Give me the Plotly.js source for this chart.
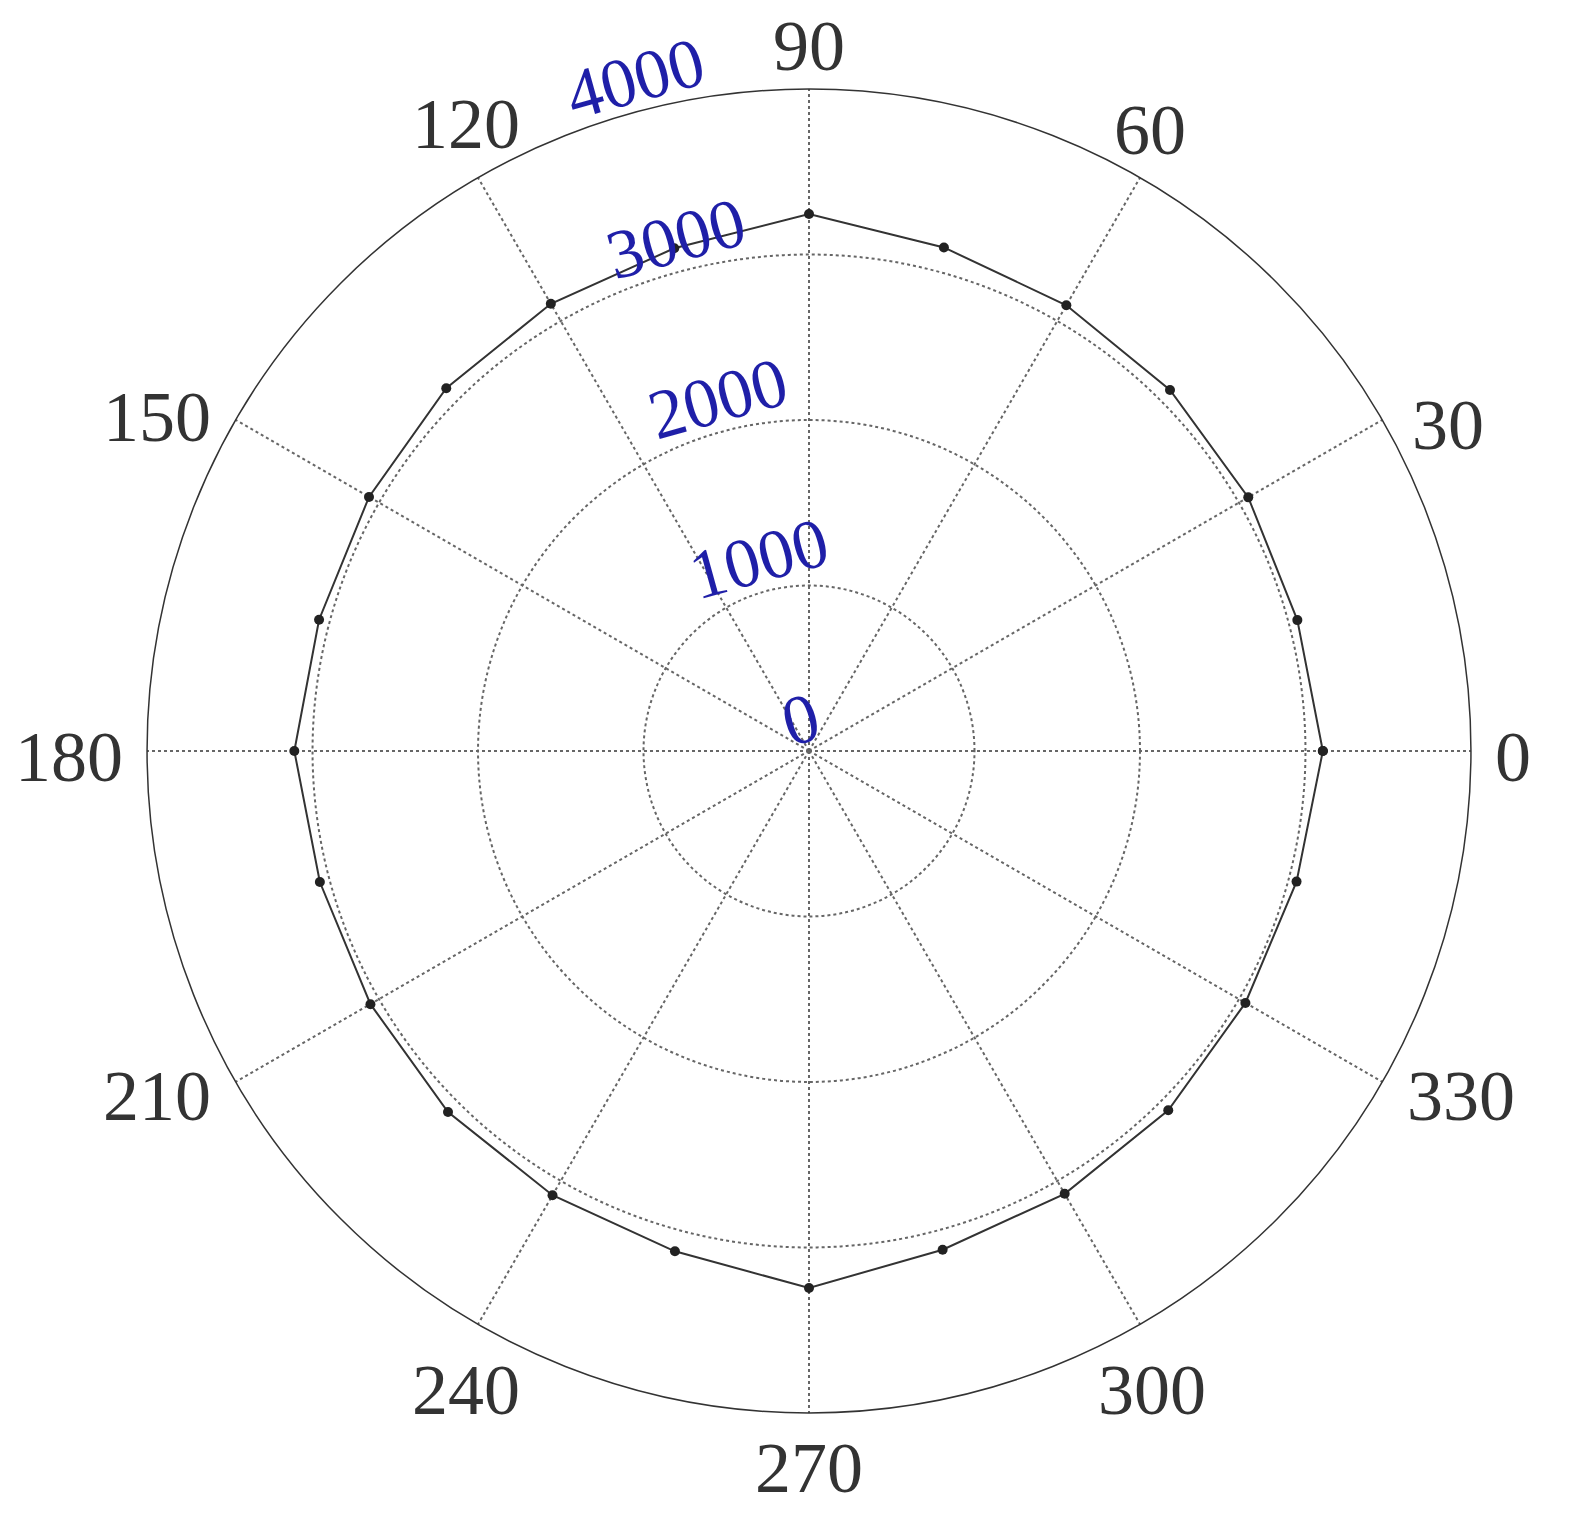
<!DOCTYPE html>
<html>
<head>
<meta charset="utf-8">
<script src="https://cdn.plot.ly/plotly-3.0.1.min.js"></script>
<style>
  html, body { margin: 0; padding: 0; background: #fff; }
  #plot { width: 1577px; height: 1527px; }
</style>
</head>
<body>
<div id="plot"></div>
<script>
// measured points, every 15 degrees
var angles = [0, 15, 30, 45, 60, 75, 90, 105, 120, 135, 150, 165,
              180, 195, 210, 225, 240, 255, 270, 285, 300, 315, 330, 345];
var values = [3105, 3055, 3065, 3085, 3110, 3150, 3245, 3145, 3120, 3100, 3070, 3065,
              3110, 3060, 3060, 3085, 3100, 3130, 3245, 3120, 3090, 3070, 3045, 3050];

var angleTicks = [0, 30, 60, 90, 120, 150, 180, 210, 240, 270, 300, 330];
var radialTicks = [0, 1000, 2000, 3000, 4000];
var radialTickText = ["0", "1000", "2000", "3000", "4000"];

var serif = "Liberation Serif, Times New Roman, serif";
var angFontSize = 72;
var radFontSize = 70;

var trace1 = {
    type: "scatterpolar",
    theta: angles.concat([360]),
    r: values.concat([values[0]]),
    mode: "lines+markers",
    line: { color: "#333333", width: 2 },
    marker: { color: "#222222", size: 10 },
    hoverinfo: "skip"
};

var layout = {
    width: 1577,
    height: 1527,
    margin: { l: 0, r: 0, t: 0, b: 0 },
    paper_bgcolor: "#ffffff",
    showlegend: false,
    polar: {
        domain: { x: [0.0932, 0.9328], y: [0.0747, 0.9417] },
        bgcolor: "#ffffff",
        angularaxis: {
            direction: "counterclockwise",
            rotation: 0,
            tickmode: "array",
            tickvals: angleTicks,
            showticklabels: false,
            ticks: "",
            showline: true,
            linecolor: "#333333",
            linewidth: 1.5,
            gridcolor: "#666666",
            gridwidth: 1.5,
            griddash: "dot"
        },
        radialaxis: {
            range: [0, 4000],
            tickmode: "array",
            tickvals: radialTicks,
            showticklabels: false,
            ticks: "",
            showline: false,
            gridcolor: "#666666",
            gridwidth: 1.5,
            griddash: "dot"
        }
    }
};

// radial labels sit along a ray at ~104.5 deg, tilted like the original
var labelAngle = 104.5;
var labelGap = 33;

Plotly.newPlot("plot", [trace1], layout, { displayModeBar: false }).then(function (gd) {
    var sp = gd._fullLayout.polar._subplot;
    var ra = sp.radialAxis;
    var W = gd._fullLayout.width, H = gd._fullLayout.height;
    var ann = [];

    // angle labels, centred outside the outer ring (matlab style)
    angleTicks.forEach(function (t) {
        // labels in the original lean a bit toward the nearest main axis
        var m = t % 180;
        var adj = m === 30 ? -2.5 : m === 150 ? 2.5 : m === 60 ? 1.5 : m === 120 ? -1.5 : 0;
        var a = (t + adj) * Math.PI / 180;
        var txt = String(t);
        var hw = txt.length * 0.5 * angFontSize / 2;
        var hh = 25;
        var d = sp.radius + 24 + Math.sqrt(Math.pow(hw * Math.cos(a), 2) + Math.pow(hh * Math.sin(a), 2));
        ann.push({
            xref: "paper", yref: "paper",
            x: (sp.cx + d * Math.cos(a)) / W,
            y: 1 - (sp.cy - d * Math.sin(a) + 6) / H,
            xanchor: "center", yanchor: "middle",
            text: txt,
            showarrow: false,
            font: { family: serif, size: angFontSize, color: "#333333" }
        });
    });

    var b = labelAngle * Math.PI / 180;
    radialTicks.forEach(function (v, i) {
        var d = ra.c2p(v) + labelGap;
        ann.push({
            xref: "paper", yref: "paper",
            x: (sp.cx + d * Math.cos(b)) / W,
            y: 1 - (sp.cy - d * Math.sin(b)) / H,
            xanchor: "center", yanchor: "middle",
            text: radialTickText[i],
            textangle: -15.5,
            showarrow: false,
            font: { family: serif, size: radFontSize, color: "#1f1fa8" }
        });
    });
    Plotly.relayout(gd, { annotations: ann });
});
</script>
</body>
</html>
